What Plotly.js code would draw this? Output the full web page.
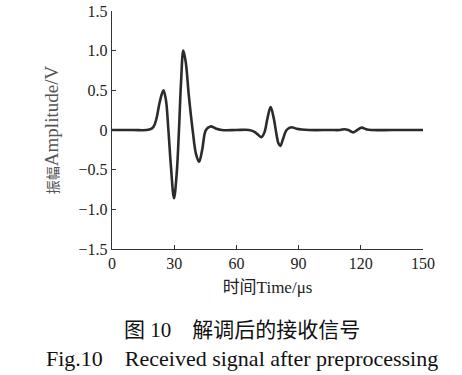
<!DOCTYPE html>
<html>
<head>
<meta charset="utf-8">
<script src="https://cdn.plot.ly/plotly-3.0.1.min.js"></script>
<style>html,body{margin:0;padding:0;background:#fff;}#chart{width:462px;height:375px;}</style>
</head>
<body>
<div id="chart"></div>
<script>
// Time (μs)
var timeUs = [0, 10, 18, 20, 21.5, 23, 24.8, 26, 27.2, 28.4, 29.9, 31.2, 32.3, 33.3, 34.4, 35.6, 37, 38.9, 40.5, 42, 43.5, 45.3, 47.5, 50, 53, 60, 66, 68.5, 70.5, 72, 73.5, 75, 76.5, 78, 79.3, 80.3, 81.2, 82.4, 84.2, 86.5, 89, 95, 105, 110, 112, 114, 116.3, 118.3, 120.4, 122.5, 125, 135, 150];
// Amplitude (V)
var amplitudeV = [0, 0, 0.005, 0.04, 0.15, 0.35, 0.50, 0.38, 0, -0.45, -0.86, -0.55, 0, 0.6, 1.0, 0.85, 0.45, 0, -0.30, -0.40, -0.25, 0, 0.045, 0.02, 0, 0, 0, -0.02, -0.06, -0.09, -0.03, 0.15, 0.29, 0.15, -0.05, -0.17, -0.20, -0.12, 0, 0.035, 0.015, 0, 0, 0, 0.01, 0, -0.03, 0, 0.03, 0.01, 0, 0, 0];

var xTickVals = [0, 30, 60, 90, 120, 150];
var xTickText = ["0", "30", "60", "90", "120", "150"];
var yTickVals = [1.5, 1.0, 0.5, 0, -0.5, -1.0, -1.5];
var yTickText = ["1.5", "1.0", "0.5", "0", "\u22120.5", "\u22121.0", "\u22121.5"];

var fontFam = "Liberation Serif, 'Times New Roman', 'Noto Sans CJK SC', serif";

var trace = {
  x: timeUs, y: amplitudeV, type: "scatter", mode: "lines",
  line: {color: "#2b2b2b", width: 2.6, shape: "spline", smoothing: 1.0},
  hoverinfo: "skip"
};

var layout = {
  width: 462, height: 375,
  margin: {l: 112, r: 39, t: 11, b: 126},
  paper_bgcolor: "#fff", plot_bgcolor: "#fff",
  showlegend: false,
  font: {family: fontFam, size: 16, color: "#222"},
  xaxis: {
    range: [0, 150], tickvals: xTickVals, ticktext: xTickText,
    showline: true, linecolor: "#333", linewidth: 1.2,
    ticks: "inside", ticklen: 4, tickcolor: "#333",
    showgrid: false, zeroline: false,
    tickfont: {family: fontFam, size: 16, color: "#222"},
    title: {text: "时间Time/μs", font: {family: fontFam, size: 17, color: "#222"}, standoff: 9}
  },
  yaxis: {
    range: [-1.5, 1.5], tickvals: yTickVals, ticktext: yTickText,
    showline: true, linecolor: "#333", linewidth: 1.2,
    ticks: "inside", ticklen: 4, tickcolor: "#333",
    showgrid: false, zeroline: false,
    tickfont: {family: fontFam, size: 16, color: "#222"},
    title: {text: "<span style='font-size:14px'>振幅</span>Amplitude/V", font: {family: fontFam, size: 19, color: "#555"}, standoff: 15}
  },
  annotations: [
    {text: "图 10　解调后的接收信号", xref: "paper", yref: "paper", x: 0.418, y: -0.340, xanchor: "center", yanchor: "middle", showarrow: false, font: {family: fontFam, size: 21, color: "#111"}},
    {text: "Fig.10　Received signal after preprocessing", xref: "paper", yref: "paper", x: 0.418, y: -0.458, xanchor: "center", yanchor: "middle", showarrow: false, font: {family: fontFam, size: 22, color: "#111"}}
  ]
};

Plotly.newPlot("chart", [trace], layout, {displayModeBar: false, staticPlot: true});
</script>
</body>
</html>
